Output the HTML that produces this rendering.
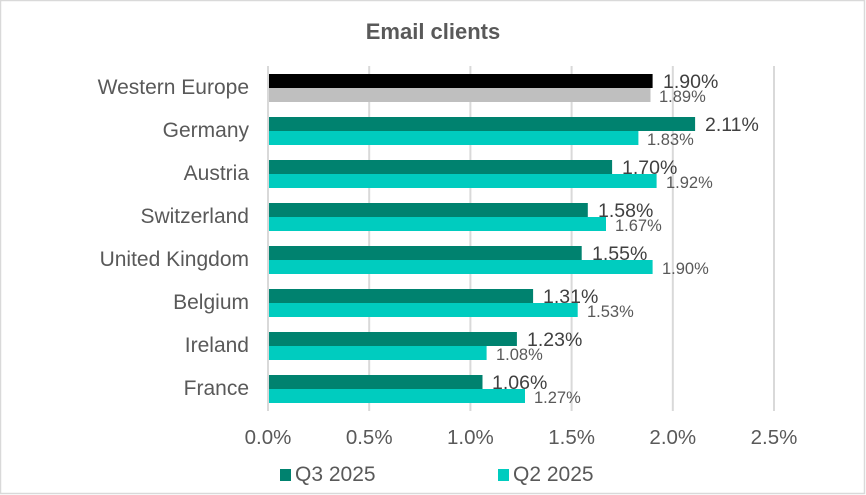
<!DOCTYPE html>
<html><head><meta charset="utf-8"><style>
html,body{margin:0;padding:0;background:#fff;}
.wrap{position:relative;width:866px;height:495px;overflow:hidden;}
svg{position:absolute;left:0;top:0;}
text{font-family:"Liberation Sans",sans-serif;}
</style></head><body><div class="wrap">
<svg width="866" height="495" viewBox="0 0 866 495" xmlns="http://www.w3.org/2000/svg">
<rect x="0.5" y="0.5" width="864" height="493" fill="#fff" stroke="#d9d9d9" stroke-width="1.5"/>
<text x="433" y="39" text-anchor="middle" font-size="22" font-weight="bold" fill="#595959">Email clients</text>
<g stroke="#d9d9d9" stroke-width="2">
<line x1="268" y1="66" x2="268" y2="411"/>
<line x1="369.2" y1="66" x2="369.2" y2="411"/>
<line x1="470.4" y1="66" x2="470.4" y2="411"/>
<line x1="571.6" y1="66" x2="571.6" y2="411"/>
<line x1="672.8" y1="66" x2="672.8" y2="411"/>
<line x1="774" y1="66" x2="774" y2="411"/>
</g>
<g font-size="20.5" fill="#595959" text-anchor="middle">
<text x="268" y="444">0.0%</text>
<text x="369.2" y="444">0.5%</text>
<text x="470.4" y="444">1.0%</text>
<text x="571.6" y="444">1.5%</text>
<text x="672.8" y="444">2.0%</text>
<text x="774" y="444">2.5%</text>
</g>
<g font-size="21" fill="#595959" text-anchor="end">
<text x="249" y="94">Western Europe</text>
<text x="249" y="137">Germany</text>
<text x="249" y="180">Austria</text>
<text x="249" y="223">Switzerland</text>
<text x="249" y="266">United Kingdom</text>
<text x="249" y="309">Belgium</text>
<text x="249" y="352">Ireland</text>
<text x="249" y="395">France</text>
</g>
<rect x="269" y="74" width="383.6" height="14" fill="#000"/>
<rect x="269" y="88" width="381.5" height="14" fill="#bfbfbf"/>
<rect x="269" y="117" width="426.1" height="14" fill="#00826f"/>
<rect x="269" y="131" width="369.4" height="14" fill="#00ccbf"/>
<rect x="269" y="160" width="343.1" height="14" fill="#00826f"/>
<rect x="269" y="174" width="387.6" height="14" fill="#00ccbf"/>
<rect x="269" y="203" width="318.8" height="14" fill="#00826f"/>
<rect x="269" y="217" width="337" height="14" fill="#00ccbf"/>
<rect x="269" y="246" width="312.7" height="14" fill="#00826f"/>
<rect x="269" y="260" width="383.6" height="14" fill="#00ccbf"/>
<rect x="269" y="289" width="264.1" height="14" fill="#00826f"/>
<rect x="269" y="303" width="308.7" height="14" fill="#00ccbf"/>
<rect x="269" y="332" width="247.9" height="14" fill="#00826f"/>
<rect x="269" y="346" width="217.6" height="14" fill="#00ccbf"/>
<rect x="269" y="375" width="213.5" height="14" fill="#00826f"/>
<rect x="269" y="389" width="256" height="14" fill="#00ccbf"/>
<g font-size="19.5" fill="#404040">
<text x="663" y="88">1.90%</text>
<text x="705" y="131">2.11%</text>
<text x="622" y="174">1.70%</text>
<text x="598" y="217">1.58%</text>
<text x="592" y="260">1.55%</text>
<text x="543" y="303">1.31%</text>
<text x="527" y="346">1.23%</text>
<text x="492" y="389">1.06%</text>
</g>
<g font-size="16.5" fill="#595959">
<text x="659" y="102">1.89%</text>
<text x="647" y="145">1.83%</text>
<text x="666" y="188">1.92%</text>
<text x="615" y="231">1.67%</text>
<text x="662" y="274">1.90%</text>
<text x="587" y="317">1.53%</text>
<text x="496" y="360">1.08%</text>
<text x="534" y="403">1.27%</text>
</g>
<rect x="280" y="469" width="11" height="12" fill="#00826f"/>
<text x="295" y="481" font-size="21" fill="#595959">Q3 2025</text>
<rect x="498" y="469" width="11" height="12" fill="#00ccbf"/>
<text x="513" y="481" font-size="21" fill="#595959">Q2 2025</text>
</svg>
</div></body></html>
